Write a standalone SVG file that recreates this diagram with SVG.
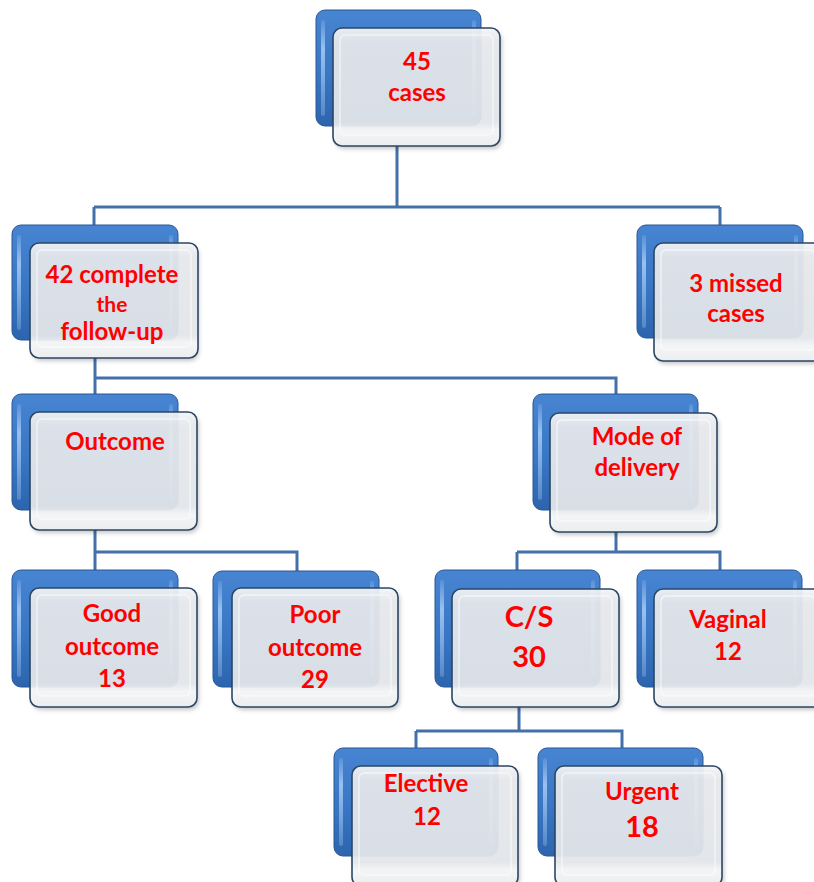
<svg xmlns="http://www.w3.org/2000/svg" width="814" height="882" viewBox="0 0 814 882">
<defs>
<linearGradient id="gBlue" x1="0" y1="0" x2="0" y2="1">
<stop offset="0" stop-color="#4784d2"/>
<stop offset="0.5" stop-color="#3a78c6"/>
<stop offset="1" stop-color="#2d64ae"/>
</linearGradient>
<linearGradient id="gHi" x1="0" y1="0" x2="0" y2="1">
<stop offset="0" stop-color="#a9cdf5" stop-opacity="0.2"/>
<stop offset="0.3" stop-color="#a9cdf5" stop-opacity="0.85"/>
<stop offset="1" stop-color="#a9cdf5" stop-opacity="0.3"/>
</linearGradient>
<linearGradient id="gFront" x1="0" y1="0" x2="0" y2="1">
<stop offset="0" stop-color="#f5f6f8"/>
<stop offset="0.12" stop-color="#e9ebef"/>
<stop offset="0.8" stop-color="#e6e9ed"/>
<stop offset="0.87" stop-color="#f7f8f9"/>
<stop offset="1" stop-color="#eef0f2"/>
</linearGradient>
<filter id="sh" x="-10%" y="-10%" width="130%" height="130%">
<feGaussianBlur stdDeviation="2"/>
</filter>
</defs>
<style>
.blue{fill:url(#gBlue);stroke:#2a5796;stroke-width:1}
.hi{fill:url(#gHi)}
.shadow{fill:#000;fill-opacity:0.22;filter:url(#sh)}
.front{fill:url(#gFront);fill-opacity:0.93;stroke:#2b4766;stroke-width:1.6}
.inner{fill:none;stroke:#ffffff;stroke-width:1.5;stroke-opacity:0.55}
.conn{fill:none;stroke:#4470aa;stroke-width:3}
text{font-family:Lato,"Liberation Sans",sans-serif;font-weight:bold;fill:#ff0000;text-anchor:middle;font-size:24px}
.sm{font-size:21px}
.lg{font-size:29px}
</style>
<rect width="814" height="882" fill="#ffffff"/>
<g id="connectors">
<path class="conn" d="M397,146 V207 M94,207 H720 M94,207 V225 M720,207 V225"/>
<path class="conn" d="M95,358 V395 M95,378 H616 V395"/>
<path class="conn" d="M95,530 V570 M95,552 H297 V571"/>
<path class="conn" d="M616,532 V552 M517,552 H720 V570 M517,552 V570"/>
<path class="conn" d="M519,707 V731 M416,731 H622 V748 M416,731 V748"/>
</g>
<g id="n45">
<rect class="blue" x="316" y="10" width="165" height="116" rx="9"/>
<rect class="hi" x="321" y="20" width="4" height="96" rx="2"/>
<rect class="hi" x="472" y="20" width="4" height="96" rx="2"/>
<rect class="shadow" x="335" y="31" width="167" height="118" rx="9"/>
<rect class="front" x="333" y="28" width="167" height="118" rx="9"/>
<rect class="inner" x="340" y="35" width="153" height="100" rx="5"/>
<text x="417" y="70">45</text>
<text x="417" y="101">cases</text>
</g>
<g id="n42">
<rect class="blue" x="12" y="225" width="166" height="115" rx="9"/>
<rect class="hi" x="17" y="235" width="4" height="95" rx="2"/>
<rect class="hi" x="169" y="235" width="4" height="95" rx="2"/>
<rect class="shadow" x="32" y="246" width="167" height="115" rx="9"/>
<rect class="front" x="30" y="243" width="168" height="115" rx="9"/>
<rect class="inner" x="37" y="250" width="154" height="97" rx="5"/>
<text x="112" y="283">42 complete</text>
<text class="sm" x="112" y="312">the</text>
<text x="112" y="340">follow-up</text>
</g>
<g id="nmissed">
<rect class="blue" x="637" y="225" width="166" height="113" rx="9"/>
<rect class="hi" x="642" y="235" width="4" height="93" rx="2"/>
<rect class="hi" x="794" y="235" width="4" height="93" rx="2"/>
<rect class="shadow" x="656" y="246" width="168" height="118" rx="9"/>
<rect class="front" x="654" y="243" width="168" height="118" rx="9"/>
<rect class="inner" x="661" y="250" width="154" height="100" rx="5"/>
<text x="736" y="292">3 missed</text>
<text x="736" y="322">cases</text>
</g>
<g id="noutcome">
<rect class="blue" x="12" y="394" width="166" height="116" rx="9"/>
<rect class="hi" x="17" y="404" width="4" height="96" rx="2"/>
<rect class="hi" x="169" y="404" width="4" height="96" rx="2"/>
<rect class="shadow" x="32" y="415" width="167" height="118" rx="9"/>
<rect class="front" x="30" y="412" width="167" height="118" rx="9"/>
<rect class="inner" x="37" y="419" width="153" height="100" rx="5"/>
<text x="115" y="450">Outcome</text>
</g>
<g id="nmode">
<rect class="blue" x="533" y="394" width="165" height="116" rx="9"/>
<rect class="hi" x="538" y="404" width="4" height="96" rx="2"/>
<rect class="hi" x="689" y="404" width="4" height="96" rx="2"/>
<rect class="shadow" x="552" y="416" width="167" height="119" rx="9"/>
<rect class="front" x="550" y="413" width="167" height="119" rx="9"/>
<rect class="inner" x="557" y="420" width="153" height="101" rx="5"/>
<text x="637" y="445">Mode of</text>
<text x="637" y="476">delivery</text>
</g>
<g id="ngood">
<rect class="blue" x="12" y="570" width="166" height="117" rx="9"/>
<rect class="hi" x="17" y="580" width="4" height="97" rx="2"/>
<rect class="hi" x="169" y="580" width="4" height="97" rx="2"/>
<rect class="shadow" x="32" y="591" width="167" height="119" rx="9"/>
<rect class="front" x="30" y="588" width="167" height="119" rx="9"/>
<rect class="inner" x="37" y="595" width="153" height="101" rx="5"/>
<text x="112" y="622">Good</text>
<text x="112" y="655">outcome</text>
<text x="112" y="687">13</text>
</g>
<g id="npoor">
<rect class="blue" x="213" y="571" width="166" height="116" rx="9"/>
<rect class="hi" x="218" y="581" width="4" height="96" rx="2"/>
<rect class="hi" x="370" y="581" width="4" height="96" rx="2"/>
<rect class="shadow" x="234" y="591" width="166" height="119" rx="9"/>
<rect class="front" x="232" y="588" width="166" height="119" rx="9"/>
<rect class="inner" x="239" y="595" width="152" height="101" rx="5"/>
<text x="315" y="623">Poor</text>
<text x="315" y="656">outcome</text>
<text x="315" y="688">29</text>
</g>
<g id="ncs">
<rect class="blue" x="435" y="570" width="165" height="117" rx="9"/>
<rect class="hi" x="440" y="580" width="4" height="97" rx="2"/>
<rect class="hi" x="591" y="580" width="4" height="97" rx="2"/>
<rect class="shadow" x="454" y="592" width="167" height="118" rx="9"/>
<rect class="front" x="452" y="589" width="167" height="118" rx="9"/>
<rect class="inner" x="459" y="596" width="153" height="100" rx="5"/>
<text class="lg" x="529" y="627">C/S</text>
<text class="lg" x="529" y="667">30</text>
</g>
<g id="nvaginal">
<rect class="blue" x="637" y="570" width="165" height="117" rx="9"/>
<rect class="hi" x="642" y="580" width="4" height="97" rx="2"/>
<rect class="hi" x="793" y="580" width="4" height="97" rx="2"/>
<rect class="shadow" x="656" y="592" width="168" height="118" rx="9"/>
<rect class="front" x="654" y="589" width="168" height="118" rx="9"/>
<rect class="inner" x="661" y="596" width="154" height="100" rx="5"/>
<text x="728" y="628">Vaginal</text>
<text x="728" y="660">12</text>
</g>
<g id="nelective">
<rect class="blue" x="334" y="748" width="164" height="108" rx="9"/>
<rect class="hi" x="339" y="758" width="4" height="88" rx="2"/>
<rect class="hi" x="489" y="758" width="4" height="88" rx="2"/>
<rect class="shadow" x="354" y="769" width="166" height="120" rx="9"/>
<rect class="front" x="352" y="766" width="166" height="120" rx="9"/>
<rect class="inner" x="359" y="773" width="152" height="102" rx="5"/>
<text x="426" y="792">Elective</text>
<text x="427" y="825">12</text>
</g>
<g id="nurgent">
<rect class="blue" x="538" y="748" width="165" height="108" rx="9"/>
<rect class="hi" x="543" y="758" width="4" height="88" rx="2"/>
<rect class="hi" x="694" y="758" width="4" height="88" rx="2"/>
<rect class="shadow" x="557" y="769" width="167" height="120" rx="9"/>
<rect class="front" x="555" y="766" width="167" height="120" rx="9"/>
<rect class="inner" x="562" y="773" width="153" height="102" rx="5"/>
<text x="642" y="800">Urgent</text>
<text class="lg" x="642" y="837">18</text>
</g>
</svg>
